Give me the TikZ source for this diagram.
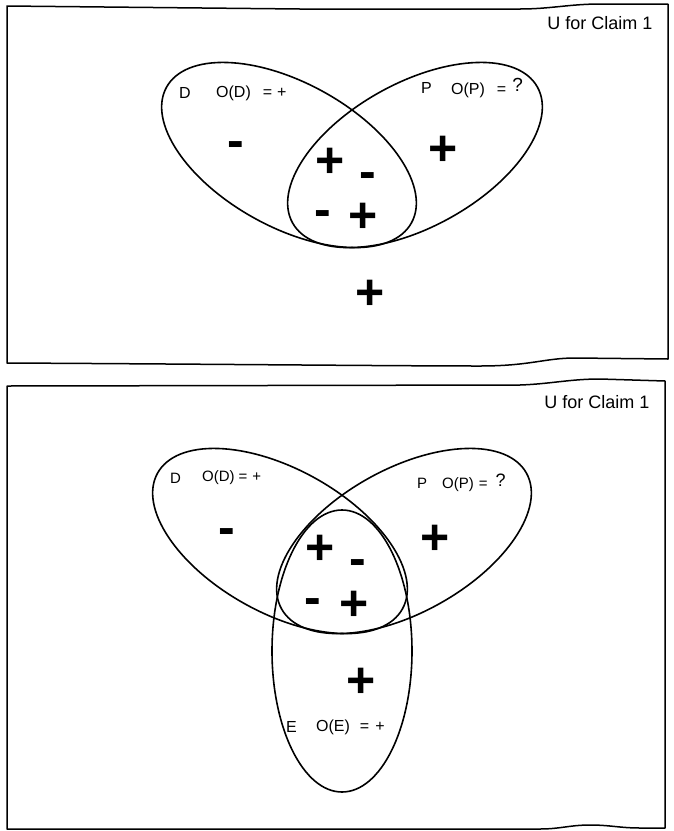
\documentclass[tikz,border=0pt]{standalone}
\usepackage{fontspec}
\setmainfont{Liberation Sans}
\usetikzlibrary{shapes.geometric}
\begin{document}
\begin{tikzpicture}[x=1pt,y=-1pt,
  set/.style={draw, ellipse, inner sep=0pt, line width=1.6pt},
  dp/.style={set, minimum width=280pt, minimum height=144pt},
  lbl/.style={inner sep=0pt, anchor=west, font=\fontsize{16}{16}\selectfont},
  lbls/.style={inner sep=0pt, anchor=west, font=\fontsize{15}{15}\selectfont},
  ttl/.style={inner sep=0pt, anchor=center, font=\fontsize{18}{18}\selectfont},
  sgn/.style={inner sep=0pt, anchor=base, font=\bfseries\fontsize{50}{50}\selectfont},
  frame/.style={line width=1.5pt, line join=round}]
\useasboundingbox (0,0) rectangle (673,831);

% ---------- top panel ----------
\draw[frame] (7,6) -- (7,363) .. controls (200,364) and (400,366) .. (480,366)
  .. controls (530,366) and (545,358) .. (575,358) -- (668,359) -- (668,4)
  -- (600,4) .. controls (570,4) and (550,9) .. (520,9) -- (300,9) -- cycle;
\node[ttl] (u1) at (600,23) {U for Claim 1};

\node[dp, rotate=-29] (D1) at (289,155) {};
\node[dp, rotate=29]  (P1) at (415,155) {};

\node[lbl] (d1)  at (179,93) {D};
\node[lbl] (od1) at (216,93) {O(D)\hspace{12pt}=\hspace{5pt}+};
\node[lbl] (p1)  at (421,88) {P};
\node[lbl] (op1) at (451,88) {O(P)\hspace{12pt}=\hspace{6pt}\raisebox{3pt}{\fontsize{19}{19}\selectfont ?}};

\node[sgn] (s1) at (236,157) {-};
\node[sgn] (s2) at (443,165) {+};
\node[sgn] (s3) at (330,177) {+};
\node[sgn] (s4) at (368,188) {-};
\node[sgn] (s5) at (323,226) {-};
\node[sgn] (s6) at (363,232) {+};
\node[sgn] (s7) at (370,309) {+};

% ---------- bottom panel ----------
\draw[frame] (7,386) -- (7,829) -- (540,829) .. controls (560,829) and (570,825) .. (590,825)
  .. controls (610,825) and (620,828) .. (640,828) -- (665,828) -- (665,381)
  -- (600,379) .. controls (570,379) and (550,384) .. (520,385) -- cycle;
\node[ttl] (u2) at (597,402) {U for Claim 1};

\node[dp, rotate=-29] (D2) at (280,541) {};
\node[dp, rotate=29]  (P2) at (404,541) {};
\node[set, minimum width=140pt, minimum height=282pt] (E2) at (342,651) {};

\node[lbls] (d2)  at (170,478) {D};
\node[lbls] (od2) at (202,478) {O(D)\hspace{4pt}=\hspace{5pt}+};
\node[lbls] (p2)  at (417,483) {P};
\node[lbls] (op2) at (442,483) {O(P)\hspace{5pt}=\hspace{8pt}\raisebox{2pt}{\fontsize{18}{18}\selectfont ?}};
\node[lbl]  (e2)  at (286,727) {E};
\node[lbl]  (oe2) at (316,727) {O(E)\hspace{10pt}=\hspace{6pt}+};

\node[sgn] (t1) at (227,544) {-};
\node[sgn] (t2) at (435,554) {+};
\node[sgn] (t3) at (320,564) {+};
\node[sgn] (t4) at (358,575) {-};
\node[sgn] (t5) at (313,614) {-};
\node[sgn] (t6) at (354,620) {+};
\node[sgn] (t7) at (361,697) {+};
\end{tikzpicture}
\end{document}
